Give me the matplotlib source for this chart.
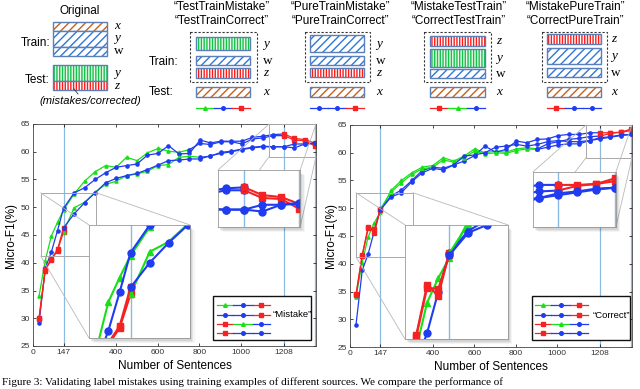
import matplotlib.pyplot as plt
from matplotlib.patches import Rectangle, ConnectionPatch

plt.rcParams['font.family'] = ['Liberation Sans', 'DejaVu Sans']
plt.rcParams['hatch.linewidth'] = 1.0

# x positions of the measurements (number of sentences)
sentences = [29, 59, 88, 118, 147, 198, 248, 299, 349, 400, 450, 501, 551, 602, 652,
             703, 753, 804, 854, 905, 955, 1006, 1056, 1107, 1157, 1208, 1258, 1309, 1359]
boundaries = [147, 1208, 1359]
x_ticks = [0, 147, 400, 600, 800, 1000, 1208]
y_ticks = [25, 30, 35, 40, 45, 50, 55, 60, 65]

# "Mistake" panel, micro-F1 (%)
mistake_1 = [34.0, 40.4, 44.8, 47.3, 49.5, 52.4, 54.7, 56.4, 57.5, 57.2, 59.0, 58.4, 59.8, 60.6, 60.1,
             59.9, 60.4, 61.5, 61.3, 61.8, 61.8, 61.4, 62.3, 62.5, 62.9, 62.9, 62.1, 62.0, 61.0]
mistake_2 = [29.1, 39.0, 41.9, 45.8, 49.8, 52.6, 53.5, 55.0, 56.2, 57.2, 57.5, 57.8, 59.4, 59.7, 61.1,
             59.6, 59.7, 62.1, 61.6, 61.9, 61.9, 61.9, 62.6, 62.8, 63.1, 63.2, 62.4, 62.2, 61.5]
mistake_3 = [30.1, 38.8, 40.5, 42.2, 45.6, 49.9, 50.9, 52.7, 54.1, 54.7, 55.7, 56.0, 56.5, 57.5, 57.7,
             59.0, 59.2, 59.0, 59.2, 59.9, 60.1, 60.5, 60.8, 61.0, 60.9, 60.9, 61.4, 61.4, 61.6]
mistake_4 = [29.9, 38.6, 40.7, 42.4, 46.3, 48.8, 50.8, 52.6, 54.4, 55.2, 55.7, 56.1, 56.8, 57.6, 58.4,
             58.5, 58.7, 58.7, 59.3, 59.7, 60.0, 60.4, 60.7, 60.9, 60.9, 60.9, 60.7, 61.4, 61.5]

# "Correct" panel, micro-F1 (%)
correct_1 = [34.0, 40.2, 44.9, 47.4, 49.4, 53.2, 55.0, 56.4, 57.4, 57.7, 59.1, 58.5, 59.4, 60.7, 60.0,
             60.3, 60.1, 60.7, 60.9, 60.7, 61.6, 62.0, 62.4, 62.6, 62.9, 63.0, 63.5, 63.7, 64.0]
correct_2 = [29.0, 38.8, 41.8, 46.0, 49.9, 52.2, 53.3, 55.0, 56.8, 57.4, 57.2, 57.8, 58.5, 59.5, 61.2,
             60.1, 60.6, 62.1, 61.8, 62.4, 62.5, 63.1, 63.3, 63.3, 63.6, 63.6, 63.6, 63.7, 64.3]
correct_3 = [34.5, 41.6, 46.7, 45.6, 49.9, 52.9, 54.6, 56.1, 57.1, 57.4, 58.7, 58.3, 59.1, 60.3, 59.8,
             60.0, 59.9, 60.4, 60.7, 60.6, 61.0, 61.4, 61.6, 61.6, 62.2, 62.7, 62.9, 63.2, 63.3]
correct_4 = [34.3, 41.4, 46.4, 46.3, 49.7, 52.0, 52.8, 54.8, 56.4, 57.2, 56.9, 57.8, 59.4, 59.6, 60.0,
             61.0, 61.2, 61.5, 61.2, 61.5, 62.0, 62.2, 62.0, 62.0, 62.2, 62.5, 62.8, 63.1, 63.3]

# colour of each stretch of a curve: (first index, last index, colour)
mistake_phases = [[(0, 16, 'g'), (16, 25, 'b'), (25, 28, 'r')],
                  [(0, 25, 'b'), (25, 28, 'r')],
                  [(0, 4, 'r'), (4, 17, 'g'), (17, 28, 'b')],
                  [(0, 4, 'r'), (4, 28, 'b')]]
correct_phases = [[(0, 19, 'g'), (19, 25, 'b'), (25, 28, 'r')],
                  [(0, 25, 'b'), (25, 28, 'r')],
                  [(0, 4, 'r'), (4, 19, 'g'), (19, 28, 'b')],
                  [(0, 4, 'r'), (4, 28, 'b')]]
legend_rows = [['g', 'b', 'r'], ['b', 'b', 'r'], ['r', 'g', 'b'], ['r', 'b', 'b']]

COLORS = {'g': '#17e017', 'b': '#1f3cf0', 'r': '#f42222'}
MARKERS = {'g': '^', 'b': 'o', 'r': 's'}
VLINE = '#8bbbe0'

fig = plt.figure(figsize=(6.4, 3.89), dpi=100)


def draw_curves(ax, curves, phases, ms, lw):
    for ys, ph in zip(curves, phases):
        for a, b, c in ph:
            ax.plot(sentences[a:b + 1], ys[a:b + 1], color=COLORS[c], marker=MARKERS[c],
                    ms=ms, lw=lw, mec=COLORS[c])


def zoom_box(ax, curves, phases, bounds, pos):
    x0, x1, y0, y1 = bounds
    ix, iy, iw, ih = pos
    # soft shadow behind the magnified view
    for k, a in enumerate([0.10, 0.08, 0.06, 0.04]):
        d = 0.004 * (k + 1)
        ax.add_patch(Rectangle((ix + d, iy - 1.5 * d), iw, ih, transform=ax.transAxes,
                               color='k', alpha=a, lw=0, zorder=4))
    ins = ax.inset_axes(pos)
    for v in boundaries:
        ins.axvline(v, color=VLINE, lw=1.0, zorder=0)
    draw_curves(ins, curves, phases, 5, 1.5)
    ins.set_xlim(x0, x1)
    ins.set_ylim(y0, y1)
    ins.set_xticks([])
    ins.set_yticks([])
    for s in ins.spines.values():
        s.set_color('#9a9a9a')
        s.set_linewidth(0.6)
    ax.add_patch(Rectangle((x0, y0), x1 - x0, y1 - y0, fill=False, ec='#a8a8a8', lw=0.7, zorder=3))
    for cx, cy, fx, fy in [(x0, y1, 0, 1), (x1, y1, 1, 1), (x0, y0, 0, 0), (x1, y0, 1, 0)]:
        cp = ConnectionPatch((cx, cy), (fx, fy), coordsA='data', coordsB=ins.transAxes,
                             axesA=ax, axesB=ins, color='#b8b8b8', lw=0.6, zorder=3)
        ax.add_artist(cp)


def legend_box(ax, box, seg_x, rows_y, text, text_x):
    x0, x1, y0, y1 = box
    ax.add_patch(Rectangle((x0, y0), x1 - x0, y1 - y0, transform=ax.transAxes,
                           fc='white', ec='#111111', lw=1.0, zorder=6))
    for row, y in zip(legend_rows, rows_y):
        for k, c in enumerate(row):
            xs = [seg_x[k], seg_x[k + 1]]
            ax.plot(xs, [y, y], transform=ax.transAxes, color=COLORS[c], lw=0.9, zorder=7)
            ax.plot([(xs[0] + xs[1]) / 2], [y], transform=ax.transAxes, marker=MARKERS[c],
                    color=COLORS[c], ms=2.6, zorder=7)
    ax.text(text_x, rows_y[1], text, transform=ax.transAxes, fontsize=6.8, va='center', zorder=7)


def panel(rect, curves, phases, insets, legend, label_x):
    ax = fig.add_axes(rect)
    for v in boundaries:
        ax.axvline(v, color=VLINE, lw=0.9, zorder=0)
    draw_curves(ax, curves, phases, 2.3, 0.9)
    ax.set_xlim(0, 1362)
    ax.set_ylim(25, 65)
    ax.set_xticks(x_ticks)
    ax.set_yticks(y_ticks)
    ax.tick_params(direction='in', length=2, width=0.5, labelsize=6, top=True, right=True,
                   pad=2, labelcolor='#333333')
    for s in ax.spines.values():
        s.set_color('#444444')
        s.set_linewidth(0.6)
    ax.set_xlabel('Number of Sentences', fontsize=8.5)
    ax.xaxis.set_label_coords(0.5, -0.065)
    ax.set_ylabel('Micro-F1(%)', fontsize=8.5)
    ax.yaxis.set_label_coords(label_x, 0.5)
    for bounds, pos in insets:
        zoom_box(ax, curves, phases, bounds, pos)
    legend_box(ax, *legend)
    return ax


panel([33 / 640, 43 / 389, 283 / 640, 222 / 389],
      [mistake_1, mistake_2, mistake_3, mistake_4], mistake_phases,
      [((37, 305, 41.2, 52.6), [0.198, 0.036, 0.357, 0.509]),
       ((1136, 1362, 59.1, 65), [0.654, 0.536, 0.29, 0.257])],
      ((0.636, 0.982, 0.027, 0.225), [0.650, 0.707, 0.777, 0.837],
       [0.185, 0.140, 0.099, 0.059], '\u201cMistake\u201d', 0.848),
      -0.058)

panel([350 / 640, 42 / 389, 282 / 640, 222 / 389],
      [correct_1, correct_2, correct_3, correct_4], correct_phases,
      [((29, 304, 41.2, 52.8), [0.195, 0.036, 0.365, 0.514]),
       ((1140, 1362, 59.1, 65), [0.649, 0.541, 0.294, 0.248])],
      ((0.644, 0.993, 0.032, 0.230), [0.656, 0.713, 0.780, 0.844],
       [0.189, 0.144, 0.102, 0.064], '\u201cCorrect\u201d', 0.861),
      -0.045)

# ---- schematic of the training orders (pixel coordinates) ----
top = fig.add_axes([0, 0, 1, 1], zorder=-1)
top.set_xlim(0, 640)
top.set_ylim(389, 0)
top.axis('off')

HATCH = {'orange': ('////', '#c8601a', 'white'),
         'blue': ('////', '#2f78d8', 'white'),
         'green': ('||||||', '#14c24a', '#eafaea'),
         'red': ('||||||', '#ff1a1a', 'white')}


def hbox(x0, x1, y0, y1, kind):
    hatch, hc, fc = HATCH[kind]
    top.add_patch(Rectangle((x0, y0), x1 - x0, y1 - y0, fc=fc, ec=hc, hatch=hatch, lw=0))
    top.add_patch(Rectangle((x0, y0), x1 - x0, y1 - y0, fill=False, ec='#5b7fb8', lw=1.0))


def var(x, y, s):
    top.text(x, y, s, fontsize=9.5, family=['Liberation Serif', 'DejaVu Serif'],
             style='normal' if s == 'w' else 'italic', ha='left', va='center')


def mini_legend(x0, x1, y, row):
    w = (x1 - x0) / 3
    for k, c in enumerate(row):
        top.plot([x0 + k * w, x0 + (k + 1) * w], [y, y], color=COLORS[c], lw=0.9)
        top.plot([x0 + (k + 0.5) * w], [y], marker=MARKERS[c], color=COLORS[c], ms=2.6)


# original split
top.text(80, 11, 'Original', fontsize=8.5, ha='center', va='center')
for kind, y0, y1 in [('orange', 22, 31), ('blue', 31, 47), ('blue', 47, 56),
                     ('green', 65, 81), ('red', 81, 90)]:
    hbox(53, 107, y0, y1, kind)
for s, y in [('x', 26), ('y', 38), ('w', 51), ('y', 73), ('z', 86)]:
    var(114, y, s)
top.text(50, 43, 'Train:', fontsize=8.5, ha='right', va='center')
top.text(50, 80, 'Test:', fontsize=8.5, ha='right', va='center')
top.plot([74, 78], [89, 94], color='#333333', lw=0.6)
top.text(90, 101, '(mistakes/corrected)', fontsize=8, style='italic', ha='center', va='center')

groups = [
    (222, ('TestTrainMistake', 'TestTrainCorrect'), (190, 257), (196, 250),
     [('green', 37, 50, 'y'), ('blue', 56, 65, 'w'), ('red', 68, 78, 'z')], 263, ['g', 'b', 'r']),
    (340, ('PureTrainMistake', 'PureTrainCorrect'), (305, 370), (310, 364),
     [('blue', 35, 52, 'y'), ('blue', 56, 65, 'w'), ('red', 68, 77, 'z')], 376, ['b', 'b', 'r']),
    (459, ('MistakeTestTrain', 'CorrectTestTrain'), (424, 491), (430, 485),
     [('red', 36, 46, 'z'), ('green', 49, 67, 'y'), ('blue', 69, 78, 'w')], 496, ['r', 'g', 'b']),
    (575, ('MistakePureTrain', 'CorrectPureTrain'), (542, 607), (547, 601),
     [('red', 34, 44, 'z'), ('blue', 48, 64, 'y'), ('blue', 68, 77, 'w')], 611, ['r', 'b', 'b']),
]
for cx, names, (dx0, dx1), (bx0, bx1), boxes, lx, row in groups:
    top.text(cx, 7, '\u201c%s\u201d' % names[0], fontsize=8.5, ha='center', va='center')
    top.text(cx, 21, '\u201c%s\u201d' % names[1], fontsize=8.5, ha='center', va='center')
    top.add_patch(Rectangle((dx0, 32), dx1 - dx0, 50, fill=False, ec='#333333', lw=0.8,
                            ls=(0, (2, 1.6))))
    for kind, y0, y1, s in boxes:
        hbox(bx0, bx1, y0, y1, kind)
        var(lx, (y0 + y1) / 2, s)
    hbox(bx0, bx1, 87, 97, 'orange')
    var(lx, 92, 'x')
    mini_legend(bx0, bx1, 108, row)

top.text(178, 62, 'Train:', fontsize=8.5, ha='right', va='center')
top.text(174, 92, 'Test:', fontsize=8.5, ha='right', va='center')

# caption line at the bottom edge
top.text(2, 382, 'Figure 3: Validating label mistakes using training examples of different sources. We compare the performance of',
         fontsize=8, family=['Liberation Serif', 'DejaVu Serif'], ha='left', va='center')

fig.savefig('out.png', dpi=100)
